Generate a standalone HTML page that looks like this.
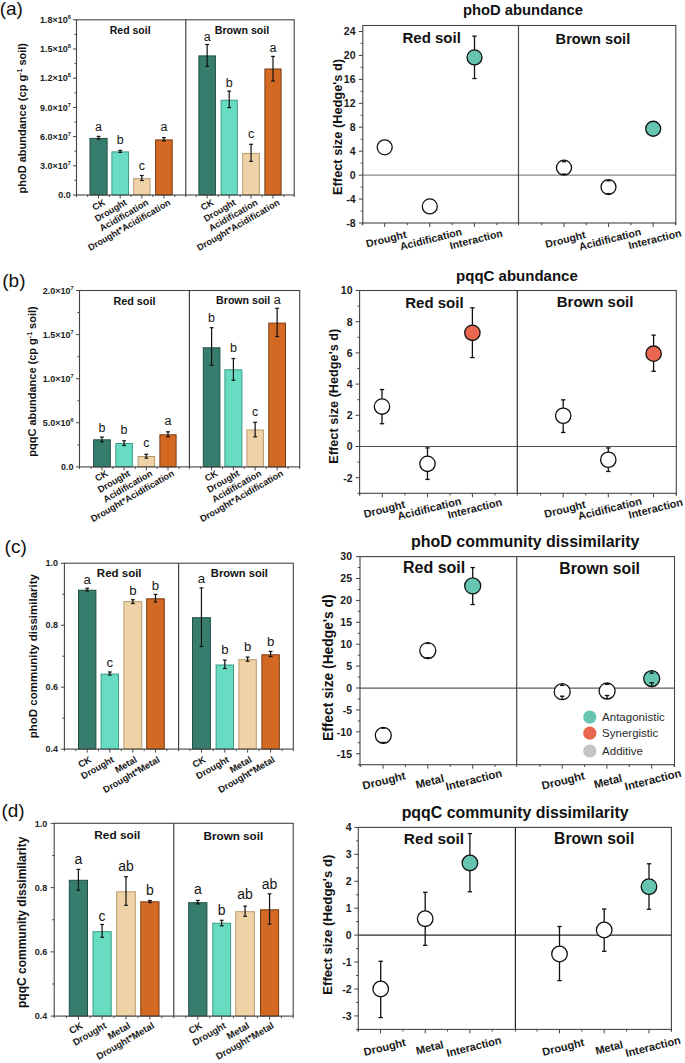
<!DOCTYPE html>
<html><head><meta charset="utf-8"><style>
html,body{margin:0;padding:0;background:#fff;}
svg{display:block;font-family:"Liberation Sans", sans-serif;}
</style></head><body>
<svg width="685" height="1063" viewBox="0 0 685 1063">
<rect width="685" height="1063" fill="#fff"/>
<rect x="90.00" y="138.40" width="17.10" height="56.60" fill="#377d6e" stroke="#1f4f44" stroke-width="1"/>
<line x1="98.55" y1="136.40" x2="98.55" y2="139.10" stroke="#111" stroke-width="1.2"/>
<line x1="96.65" y1="136.40" x2="100.45" y2="136.40" stroke="#111" stroke-width="1.2"/>
<line x1="96.65" y1="139.10" x2="100.45" y2="139.10" stroke="#111" stroke-width="1.2"/>
<text x="98.55" y="130.70" font-size="12.5" text-anchor="middle" fill="#151515">a</text>
<rect x="111.90" y="151.90" width="16.60" height="43.10" fill="#68dcc2" stroke="#3d9c85" stroke-width="1"/>
<line x1="120.20" y1="150.40" x2="120.20" y2="152.40" stroke="#111" stroke-width="1.2"/>
<line x1="118.30" y1="150.40" x2="122.10" y2="150.40" stroke="#111" stroke-width="1.2"/>
<line x1="118.30" y1="152.40" x2="122.10" y2="152.40" stroke="#111" stroke-width="1.2"/>
<text x="120.20" y="144.00" font-size="12.5" text-anchor="middle" fill="#151515">b</text>
<rect x="133.70" y="178.70" width="16.30" height="16.30" fill="#efd3a6" stroke="#b89a70" stroke-width="1"/>
<line x1="141.85" y1="175.50" x2="141.85" y2="180.50" stroke="#111" stroke-width="1.2"/>
<line x1="139.95" y1="175.50" x2="143.75" y2="175.50" stroke="#111" stroke-width="1.2"/>
<line x1="139.95" y1="180.50" x2="143.75" y2="180.50" stroke="#111" stroke-width="1.2"/>
<text x="141.85" y="170.10" font-size="12.5" text-anchor="middle" fill="#151515">c</text>
<rect x="155.60" y="139.90" width="16.60" height="55.10" fill="#d36922" stroke="#7a3a10" stroke-width="1"/>
<line x1="163.90" y1="137.60" x2="163.90" y2="141.00" stroke="#111" stroke-width="1.2"/>
<line x1="162.00" y1="137.60" x2="165.80" y2="137.60" stroke="#111" stroke-width="1.2"/>
<line x1="162.00" y1="141.00" x2="165.80" y2="141.00" stroke="#111" stroke-width="1.2"/>
<text x="163.90" y="130.70" font-size="12.5" text-anchor="middle" fill="#151515">a</text>
<text x="130.20" y="34.30" font-size="10.5" font-weight="bold" text-anchor="middle" fill="#111">Red soil</text>
<rect x="198.90" y="55.90" width="16.50" height="139.10" fill="#377d6e" stroke="#1f4f44" stroke-width="1"/>
<line x1="207.15" y1="44.50" x2="207.15" y2="66.40" stroke="#111" stroke-width="1.2"/>
<line x1="205.25" y1="44.50" x2="209.05" y2="44.50" stroke="#111" stroke-width="1.2"/>
<line x1="205.25" y1="66.40" x2="209.05" y2="66.40" stroke="#111" stroke-width="1.2"/>
<text x="207.15" y="41.00" font-size="12.5" text-anchor="middle" fill="#151515">a</text>
<rect x="221.10" y="100.20" width="16.20" height="94.80" fill="#68dcc2" stroke="#3d9c85" stroke-width="1"/>
<line x1="229.20" y1="91.10" x2="229.20" y2="107.60" stroke="#111" stroke-width="1.2"/>
<line x1="227.30" y1="91.10" x2="231.10" y2="91.10" stroke="#111" stroke-width="1.2"/>
<line x1="227.30" y1="107.60" x2="231.10" y2="107.60" stroke="#111" stroke-width="1.2"/>
<text x="229.20" y="87.40" font-size="12.5" text-anchor="middle" fill="#151515">b</text>
<rect x="242.70" y="153.40" width="16.70" height="41.60" fill="#efd3a6" stroke="#b89a70" stroke-width="1"/>
<line x1="251.05" y1="144.30" x2="251.05" y2="161.30" stroke="#111" stroke-width="1.2"/>
<line x1="249.15" y1="144.30" x2="252.95" y2="144.30" stroke="#111" stroke-width="1.2"/>
<line x1="249.15" y1="161.30" x2="252.95" y2="161.30" stroke="#111" stroke-width="1.2"/>
<text x="251.05" y="138.10" font-size="12.5" text-anchor="middle" fill="#151515">c</text>
<rect x="264.90" y="69.00" width="16.20" height="126.00" fill="#d36922" stroke="#7a3a10" stroke-width="1"/>
<line x1="273.00" y1="56.40" x2="273.00" y2="81.00" stroke="#111" stroke-width="1.2"/>
<line x1="271.10" y1="56.40" x2="274.90" y2="56.40" stroke="#111" stroke-width="1.2"/>
<line x1="271.10" y1="81.00" x2="274.90" y2="81.00" stroke="#111" stroke-width="1.2"/>
<text x="273.00" y="52.40" font-size="12.5" text-anchor="middle" fill="#151515">a</text>
<text x="242.00" y="34.40" font-size="10.7" font-weight="bold" text-anchor="middle" fill="#111">Brown soil</text>
<rect x="76.5" y="19.8" width="217.7" height="175.2" fill="none" stroke="#444" stroke-width="1.1"/>
<line x1="185.80" y1="19.80" x2="185.80" y2="195.00" stroke="#333" stroke-width="1.1"/>
<line x1="73.00" y1="195.00" x2="76.50" y2="195.00" stroke="#444" stroke-width="1"/>
<text x="70.80" y="198.10" font-size="9" font-weight="bold" text-anchor="end" fill="#222">0.0</text>
<line x1="73.00" y1="165.80" x2="76.50" y2="165.80" stroke="#444" stroke-width="1"/>
<text x="70.80" y="168.90" font-size="9" font-weight="bold" text-anchor="end" fill="#222">3.0×10<tspan font-size="5.5" dy="-4">7</tspan></text>
<line x1="73.00" y1="136.60" x2="76.50" y2="136.60" stroke="#444" stroke-width="1"/>
<text x="70.80" y="139.70" font-size="9" font-weight="bold" text-anchor="end" fill="#222">6.0×10<tspan font-size="5.5" dy="-4">7</tspan></text>
<line x1="73.00" y1="107.40" x2="76.50" y2="107.40" stroke="#444" stroke-width="1"/>
<text x="70.80" y="110.50" font-size="9" font-weight="bold" text-anchor="end" fill="#222">9.0×10<tspan font-size="5.5" dy="-4">7</tspan></text>
<line x1="73.00" y1="78.20" x2="76.50" y2="78.20" stroke="#444" stroke-width="1"/>
<text x="70.80" y="81.30" font-size="9" font-weight="bold" text-anchor="end" fill="#222">1.2×10<tspan font-size="5.5" dy="-4">8</tspan></text>
<line x1="73.00" y1="49.00" x2="76.50" y2="49.00" stroke="#444" stroke-width="1"/>
<text x="70.80" y="52.10" font-size="9" font-weight="bold" text-anchor="end" fill="#222">1.5×10<tspan font-size="5.5" dy="-4">8</tspan></text>
<line x1="73.00" y1="19.80" x2="76.50" y2="19.80" stroke="#444" stroke-width="1"/>
<text x="70.80" y="22.90" font-size="9" font-weight="bold" text-anchor="end" fill="#222">1.8×10<tspan font-size="5.5" dy="-4">8</tspan></text>
<line x1="74.50" y1="180.40" x2="76.50" y2="180.40" stroke="#444" stroke-width="1"/>
<line x1="74.50" y1="151.20" x2="76.50" y2="151.20" stroke="#444" stroke-width="1"/>
<line x1="74.50" y1="122.00" x2="76.50" y2="122.00" stroke="#444" stroke-width="1"/>
<line x1="74.50" y1="92.80" x2="76.50" y2="92.80" stroke="#444" stroke-width="1"/>
<line x1="74.50" y1="63.60" x2="76.50" y2="63.60" stroke="#444" stroke-width="1"/>
<line x1="74.50" y1="34.40" x2="76.50" y2="34.40" stroke="#444" stroke-width="1"/>
<line x1="98.55" y1="195.00" x2="98.55" y2="198.50" stroke="#444" stroke-width="1"/>
<line x1="120.20" y1="195.00" x2="120.20" y2="198.50" stroke="#444" stroke-width="1"/>
<line x1="141.85" y1="195.00" x2="141.85" y2="198.50" stroke="#444" stroke-width="1"/>
<line x1="163.90" y1="195.00" x2="163.90" y2="198.50" stroke="#444" stroke-width="1"/>
<line x1="207.15" y1="195.00" x2="207.15" y2="198.50" stroke="#444" stroke-width="1"/>
<line x1="229.20" y1="195.00" x2="229.20" y2="198.50" stroke="#444" stroke-width="1"/>
<line x1="251.05" y1="195.00" x2="251.05" y2="198.50" stroke="#444" stroke-width="1"/>
<line x1="273.00" y1="195.00" x2="273.00" y2="198.50" stroke="#444" stroke-width="1"/>
<line x1="87.66" y1="195.00" x2="87.66" y2="197.00" stroke="#444" stroke-width="1"/>
<line x1="109.38" y1="195.00" x2="109.38" y2="197.00" stroke="#444" stroke-width="1"/>
<line x1="131.03" y1="195.00" x2="131.03" y2="197.00" stroke="#444" stroke-width="1"/>
<line x1="152.88" y1="195.00" x2="152.88" y2="197.00" stroke="#444" stroke-width="1"/>
<line x1="174.79" y1="195.00" x2="174.79" y2="197.00" stroke="#444" stroke-width="1"/>
<line x1="196.18" y1="195.00" x2="196.18" y2="197.00" stroke="#444" stroke-width="1"/>
<line x1="218.18" y1="195.00" x2="218.18" y2="197.00" stroke="#444" stroke-width="1"/>
<line x1="240.12" y1="195.00" x2="240.12" y2="197.00" stroke="#444" stroke-width="1"/>
<line x1="262.02" y1="195.00" x2="262.02" y2="197.00" stroke="#444" stroke-width="1"/>
<line x1="283.98" y1="195.00" x2="283.98" y2="197.00" stroke="#444" stroke-width="1"/>
<line x1="76.50" y1="195.00" x2="76.50" y2="197.00" stroke="#444" stroke-width="1"/>
<line x1="185.80" y1="195.00" x2="185.80" y2="197.00" stroke="#444" stroke-width="1"/>
<line x1="294.20" y1="195.00" x2="294.20" y2="197.00" stroke="#444" stroke-width="1"/>
<text x="105.85" y="204.30" font-size="9.1" font-weight="bold" text-anchor="end" fill="#1a1a1a" transform="rotate(-30 105.85 204.30)">CK</text>
<text x="127.50" y="204.30" font-size="9.1" font-weight="bold" text-anchor="end" fill="#1a1a1a" transform="rotate(-30 127.50 204.30)">Drought</text>
<text x="149.15" y="204.30" font-size="9.1" font-weight="bold" text-anchor="end" fill="#1a1a1a" transform="rotate(-30 149.15 204.30)">Acidification</text>
<text x="171.20" y="204.30" font-size="9.1" font-weight="bold" text-anchor="end" fill="#1a1a1a" transform="rotate(-30 171.20 204.30)">Drought*Acidification</text>
<text x="214.45" y="204.30" font-size="9.1" font-weight="bold" text-anchor="end" fill="#1a1a1a" transform="rotate(-30 214.45 204.30)">CK</text>
<text x="236.50" y="204.30" font-size="9.1" font-weight="bold" text-anchor="end" fill="#1a1a1a" transform="rotate(-30 236.50 204.30)">Drought</text>
<text x="258.35" y="204.30" font-size="9.1" font-weight="bold" text-anchor="end" fill="#1a1a1a" transform="rotate(-30 258.35 204.30)">Acidification</text>
<text x="280.30" y="204.30" font-size="9.1" font-weight="bold" text-anchor="end" fill="#1a1a1a" transform="rotate(-30 280.30 204.30)">Drought*Acidification</text>
<text x="26.40" y="118.20" font-size="11" font-weight="bold" text-anchor="middle" fill="#111" transform="rotate(-90 26.40 118.20)">phoD abundance (cp g<tspan font-size="7" dy="-4">-1</tspan><tspan dy="4"> soil)</tspan></text>
<text x="-0.30" y="14.70" font-size="19" text-anchor="start" fill="#111">(a)</text>
<rect x="93.60" y="439.80" width="16.70" height="27.10" fill="#377d6e" stroke="#1f4f44" stroke-width="1"/>
<line x1="101.95" y1="437.10" x2="101.95" y2="441.80" stroke="#111" stroke-width="1.2"/>
<line x1="100.05" y1="437.10" x2="103.85" y2="437.10" stroke="#111" stroke-width="1.2"/>
<line x1="100.05" y1="441.80" x2="103.85" y2="441.80" stroke="#111" stroke-width="1.2"/>
<text x="101.95" y="431.60" font-size="12.5" text-anchor="middle" fill="#151515">b</text>
<rect x="115.80" y="443.50" width="16.60" height="23.40" fill="#68dcc2" stroke="#3d9c85" stroke-width="1"/>
<line x1="124.10" y1="440.80" x2="124.10" y2="445.50" stroke="#111" stroke-width="1.2"/>
<line x1="122.20" y1="440.80" x2="126.00" y2="440.80" stroke="#111" stroke-width="1.2"/>
<line x1="122.20" y1="445.50" x2="126.00" y2="445.50" stroke="#111" stroke-width="1.2"/>
<text x="124.10" y="434.40" font-size="12.5" text-anchor="middle" fill="#151515">b</text>
<rect x="138.10" y="456.50" width="16.50" height="10.40" fill="#efd3a6" stroke="#b89a70" stroke-width="1"/>
<line x1="146.35" y1="454.30" x2="146.35" y2="458.10" stroke="#111" stroke-width="1.2"/>
<line x1="144.45" y1="454.30" x2="148.25" y2="454.30" stroke="#111" stroke-width="1.2"/>
<line x1="144.45" y1="458.10" x2="148.25" y2="458.10" stroke="#111" stroke-width="1.2"/>
<text x="146.35" y="447.00" font-size="12.5" text-anchor="middle" fill="#151515">c</text>
<rect x="159.90" y="434.80" width="16.20" height="32.10" fill="#d36922" stroke="#7a3a10" stroke-width="1"/>
<line x1="168.00" y1="431.80" x2="168.00" y2="436.80" stroke="#111" stroke-width="1.2"/>
<line x1="166.10" y1="431.80" x2="169.90" y2="431.80" stroke="#111" stroke-width="1.2"/>
<line x1="166.10" y1="436.80" x2="169.90" y2="436.80" stroke="#111" stroke-width="1.2"/>
<text x="168.00" y="425.20" font-size="12.5" text-anchor="middle" fill="#151515">a</text>
<text x="134.40" y="304.60" font-size="10.8" font-weight="bold" text-anchor="middle" fill="#111">Red soil</text>
<rect x="203.30" y="347.80" width="16.60" height="119.10" fill="#377d6e" stroke="#1f4f44" stroke-width="1"/>
<line x1="211.60" y1="327.70" x2="211.60" y2="365.30" stroke="#111" stroke-width="1.2"/>
<line x1="209.70" y1="327.70" x2="213.50" y2="327.70" stroke="#111" stroke-width="1.2"/>
<line x1="209.70" y1="365.30" x2="213.50" y2="365.30" stroke="#111" stroke-width="1.2"/>
<text x="211.60" y="322.40" font-size="12.5" text-anchor="middle" fill="#151515">b</text>
<rect x="224.90" y="369.80" width="17.00" height="97.10" fill="#68dcc2" stroke="#3d9c85" stroke-width="1"/>
<line x1="233.40" y1="358.50" x2="233.40" y2="380.30" stroke="#111" stroke-width="1.2"/>
<line x1="231.50" y1="358.50" x2="235.30" y2="358.50" stroke="#111" stroke-width="1.2"/>
<line x1="231.50" y1="380.30" x2="235.30" y2="380.30" stroke="#111" stroke-width="1.2"/>
<text x="233.40" y="352.30" font-size="12.5" text-anchor="middle" fill="#151515">b</text>
<rect x="246.90" y="430.00" width="16.50" height="36.90" fill="#efd3a6" stroke="#b89a70" stroke-width="1"/>
<line x1="255.15" y1="422.30" x2="255.15" y2="436.80" stroke="#111" stroke-width="1.2"/>
<line x1="253.25" y1="422.30" x2="257.05" y2="422.30" stroke="#111" stroke-width="1.2"/>
<line x1="253.25" y1="436.80" x2="257.05" y2="436.80" stroke="#111" stroke-width="1.2"/>
<text x="255.15" y="415.50" font-size="12.5" text-anchor="middle" fill="#151515">c</text>
<rect x="268.80" y="323.10" width="16.70" height="143.80" fill="#d36922" stroke="#7a3a10" stroke-width="1"/>
<line x1="277.15" y1="308.30" x2="277.15" y2="336.50" stroke="#111" stroke-width="1.2"/>
<line x1="275.25" y1="308.30" x2="279.05" y2="308.30" stroke="#111" stroke-width="1.2"/>
<line x1="275.25" y1="336.50" x2="279.05" y2="336.50" stroke="#111" stroke-width="1.2"/>
<text x="277.15" y="304.10" font-size="12.5" text-anchor="middle" fill="#151515">a</text>
<text x="243.20" y="303.50" font-size="10.6" font-weight="bold" text-anchor="middle" fill="#111">Brown soil</text>
<rect x="79.5" y="290.5" width="220.2" height="176.39999999999998" fill="none" stroke="#444" stroke-width="1.1"/>
<line x1="189.40" y1="290.50" x2="189.40" y2="466.90" stroke="#333" stroke-width="1.1"/>
<line x1="76.00" y1="466.90" x2="79.50" y2="466.90" stroke="#444" stroke-width="1"/>
<text x="73.50" y="470.00" font-size="9" font-weight="bold" text-anchor="end" fill="#222">0.0</text>
<line x1="76.00" y1="422.80" x2="79.50" y2="422.80" stroke="#444" stroke-width="1"/>
<text x="73.50" y="425.90" font-size="9" font-weight="bold" text-anchor="end" fill="#222">5.0×10<tspan font-size="5.5" dy="-4">6</tspan></text>
<line x1="76.00" y1="378.70" x2="79.50" y2="378.70" stroke="#444" stroke-width="1"/>
<text x="73.50" y="381.80" font-size="9" font-weight="bold" text-anchor="end" fill="#222">1.0×10<tspan font-size="5.5" dy="-4">7</tspan></text>
<line x1="76.00" y1="334.60" x2="79.50" y2="334.60" stroke="#444" stroke-width="1"/>
<text x="73.50" y="337.70" font-size="9" font-weight="bold" text-anchor="end" fill="#222">1.5×10<tspan font-size="5.5" dy="-4">7</tspan></text>
<line x1="76.00" y1="290.50" x2="79.50" y2="290.50" stroke="#444" stroke-width="1"/>
<text x="73.50" y="293.60" font-size="9" font-weight="bold" text-anchor="end" fill="#222">2.0×10<tspan font-size="5.5" dy="-4">7</tspan></text>
<line x1="77.50" y1="444.85" x2="79.50" y2="444.85" stroke="#444" stroke-width="1"/>
<line x1="77.50" y1="400.75" x2="79.50" y2="400.75" stroke="#444" stroke-width="1"/>
<line x1="77.50" y1="356.65" x2="79.50" y2="356.65" stroke="#444" stroke-width="1"/>
<line x1="77.50" y1="312.55" x2="79.50" y2="312.55" stroke="#444" stroke-width="1"/>
<line x1="101.95" y1="466.90" x2="101.95" y2="470.40" stroke="#444" stroke-width="1"/>
<line x1="124.10" y1="466.90" x2="124.10" y2="470.40" stroke="#444" stroke-width="1"/>
<line x1="146.35" y1="466.90" x2="146.35" y2="470.40" stroke="#444" stroke-width="1"/>
<line x1="168.00" y1="466.90" x2="168.00" y2="470.40" stroke="#444" stroke-width="1"/>
<line x1="211.60" y1="466.90" x2="211.60" y2="470.40" stroke="#444" stroke-width="1"/>
<line x1="233.40" y1="466.90" x2="233.40" y2="470.40" stroke="#444" stroke-width="1"/>
<line x1="255.15" y1="466.90" x2="255.15" y2="470.40" stroke="#444" stroke-width="1"/>
<line x1="277.15" y1="466.90" x2="277.15" y2="470.40" stroke="#444" stroke-width="1"/>
<line x1="90.94" y1="466.90" x2="90.94" y2="468.90" stroke="#444" stroke-width="1"/>
<line x1="113.02" y1="466.90" x2="113.02" y2="468.90" stroke="#444" stroke-width="1"/>
<line x1="135.22" y1="466.90" x2="135.22" y2="468.90" stroke="#444" stroke-width="1"/>
<line x1="157.18" y1="466.90" x2="157.18" y2="468.90" stroke="#444" stroke-width="1"/>
<line x1="179.01" y1="466.90" x2="179.01" y2="468.90" stroke="#444" stroke-width="1"/>
<line x1="200.68" y1="466.90" x2="200.68" y2="468.90" stroke="#444" stroke-width="1"/>
<line x1="222.50" y1="466.90" x2="222.50" y2="468.90" stroke="#444" stroke-width="1"/>
<line x1="244.28" y1="466.90" x2="244.28" y2="468.90" stroke="#444" stroke-width="1"/>
<line x1="266.15" y1="466.90" x2="266.15" y2="468.90" stroke="#444" stroke-width="1"/>
<line x1="288.08" y1="466.90" x2="288.08" y2="468.90" stroke="#444" stroke-width="1"/>
<line x1="79.50" y1="466.90" x2="79.50" y2="468.90" stroke="#444" stroke-width="1"/>
<line x1="189.40" y1="466.90" x2="189.40" y2="468.90" stroke="#444" stroke-width="1"/>
<line x1="299.70" y1="466.90" x2="299.70" y2="468.90" stroke="#444" stroke-width="1"/>
<text x="108.80" y="475.10" font-size="9.2" font-weight="bold" text-anchor="end" fill="#1a1a1a" transform="rotate(-30 108.80 475.10)">CK</text>
<text x="130.95" y="475.10" font-size="9.2" font-weight="bold" text-anchor="end" fill="#1a1a1a" transform="rotate(-30 130.95 475.10)">Drought</text>
<text x="153.20" y="475.10" font-size="9.2" font-weight="bold" text-anchor="end" fill="#1a1a1a" transform="rotate(-30 153.20 475.10)">Acidification</text>
<text x="174.85" y="475.10" font-size="9.2" font-weight="bold" text-anchor="end" fill="#1a1a1a" transform="rotate(-30 174.85 475.10)">Drought*Acidification</text>
<text x="218.45" y="475.10" font-size="9.2" font-weight="bold" text-anchor="end" fill="#1a1a1a" transform="rotate(-30 218.45 475.10)">CK</text>
<text x="240.25" y="475.10" font-size="9.2" font-weight="bold" text-anchor="end" fill="#1a1a1a" transform="rotate(-30 240.25 475.10)">Drought</text>
<text x="262.00" y="475.10" font-size="9.2" font-weight="bold" text-anchor="end" fill="#1a1a1a" transform="rotate(-30 262.00 475.10)">Acidification</text>
<text x="284.00" y="475.10" font-size="9.2" font-weight="bold" text-anchor="end" fill="#1a1a1a" transform="rotate(-30 284.00 475.10)">Drought*Acidification</text>
<text x="36.10" y="381.50" font-size="11" font-weight="bold" text-anchor="middle" fill="#111" transform="rotate(-90 36.10 381.50)">pqqC abundance (cp g<tspan font-size="7" dy="-4">-1</tspan><tspan dy="4"> soil)</tspan></text>
<text x="2.30" y="286.80" font-size="19" text-anchor="start" fill="#111">(b)</text>
<rect x="78.50" y="590.20" width="17.40" height="158.90" fill="#377d6e" stroke="#1f4f44" stroke-width="1"/>
<line x1="87.20" y1="588.30" x2="87.20" y2="590.90" stroke="#111" stroke-width="1.2"/>
<line x1="85.30" y1="588.30" x2="89.10" y2="588.30" stroke="#111" stroke-width="1.2"/>
<line x1="85.30" y1="590.90" x2="89.10" y2="590.90" stroke="#111" stroke-width="1.2"/>
<text x="87.20" y="584.20" font-size="13.2" text-anchor="middle" fill="#151515">a</text>
<rect x="101.10" y="674.10" width="17.40" height="75.00" fill="#68dcc2" stroke="#3d9c85" stroke-width="1"/>
<line x1="109.80" y1="672.00" x2="109.80" y2="675.00" stroke="#111" stroke-width="1.2"/>
<line x1="107.90" y1="672.00" x2="111.70" y2="672.00" stroke="#111" stroke-width="1.2"/>
<line x1="107.90" y1="675.00" x2="111.70" y2="675.00" stroke="#111" stroke-width="1.2"/>
<text x="109.80" y="667.10" font-size="13.2" text-anchor="middle" fill="#151515">c</text>
<rect x="123.90" y="601.60" width="17.90" height="147.50" fill="#efd3a6" stroke="#b89a70" stroke-width="1"/>
<line x1="132.85" y1="599.70" x2="132.85" y2="603.50" stroke="#111" stroke-width="1.2"/>
<line x1="130.95" y1="599.70" x2="134.75" y2="599.70" stroke="#111" stroke-width="1.2"/>
<line x1="130.95" y1="603.50" x2="134.75" y2="603.50" stroke="#111" stroke-width="1.2"/>
<text x="132.85" y="594.50" font-size="13.2" text-anchor="middle" fill="#151515">b</text>
<rect x="146.70" y="598.80" width="17.60" height="150.30" fill="#d36922" stroke="#7a3a10" stroke-width="1"/>
<line x1="155.50" y1="594.40" x2="155.50" y2="602.00" stroke="#111" stroke-width="1.2"/>
<line x1="153.60" y1="594.40" x2="157.40" y2="594.40" stroke="#111" stroke-width="1.2"/>
<line x1="153.60" y1="602.00" x2="157.40" y2="602.00" stroke="#111" stroke-width="1.2"/>
<text x="155.50" y="589.80" font-size="13.2" text-anchor="middle" fill="#151515">b</text>
<text x="119.20" y="576.90" font-size="11.5" font-weight="bold" text-anchor="middle" fill="#111">Red soil</text>
<rect x="192.50" y="617.70" width="17.90" height="131.40" fill="#377d6e" stroke="#1f4f44" stroke-width="1"/>
<line x1="201.45" y1="587.90" x2="201.45" y2="646.50" stroke="#111" stroke-width="1.2"/>
<line x1="199.55" y1="587.90" x2="203.35" y2="587.90" stroke="#111" stroke-width="1.2"/>
<line x1="199.55" y1="646.50" x2="203.35" y2="646.50" stroke="#111" stroke-width="1.2"/>
<text x="201.45" y="583.30" font-size="13.2" text-anchor="middle" fill="#151515">a</text>
<rect x="216.10" y="665.00" width="17.40" height="84.10" fill="#68dcc2" stroke="#3d9c85" stroke-width="1"/>
<line x1="224.80" y1="660.10" x2="224.80" y2="668.50" stroke="#111" stroke-width="1.2"/>
<line x1="222.90" y1="660.10" x2="226.70" y2="660.10" stroke="#111" stroke-width="1.2"/>
<line x1="222.90" y1="668.50" x2="226.70" y2="668.50" stroke="#111" stroke-width="1.2"/>
<text x="224.80" y="654.30" font-size="13.2" text-anchor="middle" fill="#151515">b</text>
<rect x="238.90" y="659.70" width="17.40" height="89.40" fill="#efd3a6" stroke="#b89a70" stroke-width="1"/>
<line x1="247.60" y1="657.10" x2="247.60" y2="661.30" stroke="#111" stroke-width="1.2"/>
<line x1="245.70" y1="657.10" x2="249.50" y2="657.10" stroke="#111" stroke-width="1.2"/>
<line x1="245.70" y1="661.30" x2="249.50" y2="661.30" stroke="#111" stroke-width="1.2"/>
<text x="247.60" y="650.80" font-size="13.2" text-anchor="middle" fill="#151515">b</text>
<rect x="261.90" y="654.80" width="17.40" height="94.30" fill="#d36922" stroke="#7a3a10" stroke-width="1"/>
<line x1="270.60" y1="651.40" x2="270.60" y2="656.60" stroke="#111" stroke-width="1.2"/>
<line x1="268.70" y1="651.40" x2="272.50" y2="651.40" stroke="#111" stroke-width="1.2"/>
<line x1="268.70" y1="656.60" x2="272.50" y2="656.60" stroke="#111" stroke-width="1.2"/>
<text x="270.60" y="646.40" font-size="13.2" text-anchor="middle" fill="#151515">b</text>
<text x="239.40" y="576.90" font-size="11.2" font-weight="bold" text-anchor="middle" fill="#111">Brown soil</text>
<rect x="64.4" y="563.2" width="228.9" height="185.89999999999998" fill="none" stroke="#444" stroke-width="1.1"/>
<line x1="178.60" y1="563.20" x2="178.60" y2="749.10" stroke="#333" stroke-width="1.1"/>
<line x1="60.90" y1="749.10" x2="64.40" y2="749.10" stroke="#444" stroke-width="1"/>
<text x="57.90" y="752.20" font-size="9" font-weight="bold" text-anchor="end" fill="#222">0.4</text>
<line x1="60.90" y1="687.17" x2="64.40" y2="687.17" stroke="#444" stroke-width="1"/>
<text x="57.90" y="690.27" font-size="9" font-weight="bold" text-anchor="end" fill="#222">0.6</text>
<line x1="60.90" y1="625.23" x2="64.40" y2="625.23" stroke="#444" stroke-width="1"/>
<text x="57.90" y="628.33" font-size="9" font-weight="bold" text-anchor="end" fill="#222">0.8</text>
<line x1="60.90" y1="563.30" x2="64.40" y2="563.30" stroke="#444" stroke-width="1"/>
<text x="57.90" y="566.40" font-size="9" font-weight="bold" text-anchor="end" fill="#222">1.0</text>
<line x1="62.40" y1="718.13" x2="64.40" y2="718.13" stroke="#444" stroke-width="1"/>
<line x1="62.40" y1="656.20" x2="64.40" y2="656.20" stroke="#444" stroke-width="1"/>
<line x1="62.40" y1="594.27" x2="64.40" y2="594.27" stroke="#444" stroke-width="1"/>
<line x1="87.20" y1="749.10" x2="87.20" y2="752.60" stroke="#444" stroke-width="1"/>
<line x1="109.80" y1="749.10" x2="109.80" y2="752.60" stroke="#444" stroke-width="1"/>
<line x1="132.85" y1="749.10" x2="132.85" y2="752.60" stroke="#444" stroke-width="1"/>
<line x1="155.50" y1="749.10" x2="155.50" y2="752.60" stroke="#444" stroke-width="1"/>
<line x1="201.45" y1="749.10" x2="201.45" y2="752.60" stroke="#444" stroke-width="1"/>
<line x1="224.80" y1="749.10" x2="224.80" y2="752.60" stroke="#444" stroke-width="1"/>
<line x1="247.60" y1="749.10" x2="247.60" y2="752.60" stroke="#444" stroke-width="1"/>
<line x1="270.60" y1="749.10" x2="270.60" y2="752.60" stroke="#444" stroke-width="1"/>
<line x1="75.82" y1="749.10" x2="75.82" y2="751.10" stroke="#444" stroke-width="1"/>
<line x1="98.50" y1="749.10" x2="98.50" y2="751.10" stroke="#444" stroke-width="1"/>
<line x1="121.32" y1="749.10" x2="121.32" y2="751.10" stroke="#444" stroke-width="1"/>
<line x1="144.18" y1="749.10" x2="144.18" y2="751.10" stroke="#444" stroke-width="1"/>
<line x1="166.88" y1="749.10" x2="166.88" y2="751.10" stroke="#444" stroke-width="1"/>
<line x1="189.92" y1="749.10" x2="189.92" y2="751.10" stroke="#444" stroke-width="1"/>
<line x1="213.12" y1="749.10" x2="213.12" y2="751.10" stroke="#444" stroke-width="1"/>
<line x1="236.20" y1="749.10" x2="236.20" y2="751.10" stroke="#444" stroke-width="1"/>
<line x1="259.10" y1="749.10" x2="259.10" y2="751.10" stroke="#444" stroke-width="1"/>
<line x1="282.12" y1="749.10" x2="282.12" y2="751.10" stroke="#444" stroke-width="1"/>
<line x1="64.40" y1="749.10" x2="64.40" y2="751.10" stroke="#444" stroke-width="1"/>
<line x1="178.60" y1="749.10" x2="178.60" y2="751.10" stroke="#444" stroke-width="1"/>
<line x1="293.30" y1="749.10" x2="293.30" y2="751.10" stroke="#444" stroke-width="1"/>
<text x="92.10" y="761.40" font-size="9.3" font-weight="bold" text-anchor="end" fill="#1a1a1a" transform="rotate(-30 92.10 761.40)">CK</text>
<text x="114.70" y="761.40" font-size="9.3" font-weight="bold" text-anchor="end" fill="#1a1a1a" transform="rotate(-30 114.70 761.40)">Drought</text>
<text x="137.75" y="761.40" font-size="9.3" font-weight="bold" text-anchor="end" fill="#1a1a1a" transform="rotate(-30 137.75 761.40)">Metal</text>
<text x="160.40" y="761.40" font-size="9.3" font-weight="bold" text-anchor="end" fill="#1a1a1a" transform="rotate(-30 160.40 761.40)">Drought*Metal</text>
<text x="206.35" y="761.40" font-size="9.3" font-weight="bold" text-anchor="end" fill="#1a1a1a" transform="rotate(-30 206.35 761.40)">CK</text>
<text x="229.70" y="761.40" font-size="9.3" font-weight="bold" text-anchor="end" fill="#1a1a1a" transform="rotate(-30 229.70 761.40)">Drought</text>
<text x="252.50" y="761.40" font-size="9.3" font-weight="bold" text-anchor="end" fill="#1a1a1a" transform="rotate(-30 252.50 761.40)">Metal</text>
<text x="275.50" y="761.40" font-size="9.3" font-weight="bold" text-anchor="end" fill="#1a1a1a" transform="rotate(-30 275.50 761.40)">Drought*Metal</text>
<text x="36.90" y="656.20" font-size="11.5" font-weight="bold" text-anchor="middle" fill="#111" transform="rotate(-90 36.90 656.20)">phoD community dissimilarity</text>
<text x="4.60" y="552.90" font-size="19" text-anchor="start" fill="#111">(c)</text>
<rect x="69.30" y="880.30" width="18.20" height="135.80" fill="#377d6e" stroke="#1f4f44" stroke-width="1"/>
<line x1="78.40" y1="869.40" x2="78.40" y2="890.20" stroke="#111" stroke-width="1.2"/>
<line x1="76.50" y1="869.40" x2="80.30" y2="869.40" stroke="#111" stroke-width="1.2"/>
<line x1="76.50" y1="890.20" x2="80.30" y2="890.20" stroke="#111" stroke-width="1.2"/>
<text x="78.40" y="863.90" font-size="14" text-anchor="middle" fill="#151515">a</text>
<rect x="93.00" y="931.70" width="18.20" height="84.40" fill="#68dcc2" stroke="#3d9c85" stroke-width="1"/>
<line x1="102.10" y1="924.50" x2="102.10" y2="937.30" stroke="#111" stroke-width="1.2"/>
<line x1="100.20" y1="924.50" x2="104.00" y2="924.50" stroke="#111" stroke-width="1.2"/>
<line x1="100.20" y1="937.30" x2="104.00" y2="937.30" stroke="#111" stroke-width="1.2"/>
<text x="102.10" y="920.50" font-size="14" text-anchor="middle" fill="#151515">c</text>
<rect x="116.70" y="891.80" width="18.60" height="124.30" fill="#efd3a6" stroke="#b89a70" stroke-width="1"/>
<line x1="126.00" y1="876.70" x2="126.00" y2="905.30" stroke="#111" stroke-width="1.2"/>
<line x1="124.10" y1="876.70" x2="127.90" y2="876.70" stroke="#111" stroke-width="1.2"/>
<line x1="124.10" y1="905.30" x2="127.90" y2="905.30" stroke="#111" stroke-width="1.2"/>
<text x="126.00" y="871.20" font-size="14" text-anchor="middle" fill="#151515">ab</text>
<rect x="140.80" y="901.80" width="18.20" height="114.30" fill="#d36922" stroke="#7a3a10" stroke-width="1"/>
<line x1="149.90" y1="900.50" x2="149.90" y2="902.60" stroke="#111" stroke-width="1.2"/>
<line x1="148.00" y1="900.50" x2="151.80" y2="900.50" stroke="#111" stroke-width="1.2"/>
<line x1="148.00" y1="902.60" x2="151.80" y2="902.60" stroke="#111" stroke-width="1.2"/>
<text x="149.90" y="894.90" font-size="14" text-anchor="middle" fill="#151515">b</text>
<text x="117.30" y="839.10" font-size="11.8" font-weight="bold" text-anchor="middle" fill="#111">Red soil</text>
<rect x="188.70" y="902.70" width="18.20" height="113.40" fill="#377d6e" stroke="#1f4f44" stroke-width="1"/>
<line x1="197.80" y1="900.40" x2="197.80" y2="903.90" stroke="#111" stroke-width="1.2"/>
<line x1="195.90" y1="900.40" x2="199.70" y2="900.40" stroke="#111" stroke-width="1.2"/>
<line x1="195.90" y1="903.90" x2="199.70" y2="903.90" stroke="#111" stroke-width="1.2"/>
<text x="197.80" y="893.50" font-size="14" text-anchor="middle" fill="#151515">a</text>
<rect x="212.80" y="923.20" width="17.80" height="92.90" fill="#68dcc2" stroke="#3d9c85" stroke-width="1"/>
<line x1="221.70" y1="920.30" x2="221.70" y2="925.80" stroke="#111" stroke-width="1.2"/>
<line x1="219.80" y1="920.30" x2="223.60" y2="920.30" stroke="#111" stroke-width="1.2"/>
<line x1="219.80" y1="925.80" x2="223.60" y2="925.80" stroke="#111" stroke-width="1.2"/>
<text x="221.70" y="914.50" font-size="14" text-anchor="middle" fill="#151515">b</text>
<rect x="235.80" y="911.70" width="18.60" height="104.40" fill="#efd3a6" stroke="#b89a70" stroke-width="1"/>
<line x1="245.10" y1="906.20" x2="245.10" y2="916.30" stroke="#111" stroke-width="1.2"/>
<line x1="243.20" y1="906.20" x2="247.00" y2="906.20" stroke="#111" stroke-width="1.2"/>
<line x1="243.20" y1="916.30" x2="247.00" y2="916.30" stroke="#111" stroke-width="1.2"/>
<text x="245.10" y="898.90" font-size="14" text-anchor="middle" fill="#151515">ab</text>
<rect x="260.50" y="909.80" width="18.10" height="106.30" fill="#d36922" stroke="#7a3a10" stroke-width="1"/>
<line x1="269.55" y1="893.80" x2="269.55" y2="924.10" stroke="#111" stroke-width="1.2"/>
<line x1="267.65" y1="893.80" x2="271.45" y2="893.80" stroke="#111" stroke-width="1.2"/>
<line x1="267.65" y1="924.10" x2="271.45" y2="924.10" stroke="#111" stroke-width="1.2"/>
<text x="269.55" y="888.90" font-size="14" text-anchor="middle" fill="#151515">ab</text>
<text x="233.40" y="840.00" font-size="11.7" font-weight="bold" text-anchor="middle" fill="#111">Brown soil</text>
<rect x="54.2" y="823.3" width="239.0" height="192.80000000000007" fill="none" stroke="#444" stroke-width="1.1"/>
<line x1="173.80" y1="823.30" x2="173.80" y2="1016.10" stroke="#333" stroke-width="1.1"/>
<line x1="50.70" y1="1016.10" x2="54.20" y2="1016.10" stroke="#444" stroke-width="1"/>
<text x="47.20" y="1019.20" font-size="9" font-weight="bold" text-anchor="end" fill="#222">0.4</text>
<line x1="50.70" y1="951.87" x2="54.20" y2="951.87" stroke="#444" stroke-width="1"/>
<text x="47.20" y="954.97" font-size="9" font-weight="bold" text-anchor="end" fill="#222">0.6</text>
<line x1="50.70" y1="887.63" x2="54.20" y2="887.63" stroke="#444" stroke-width="1"/>
<text x="47.20" y="890.73" font-size="9" font-weight="bold" text-anchor="end" fill="#222">0.8</text>
<line x1="50.70" y1="823.40" x2="54.20" y2="823.40" stroke="#444" stroke-width="1"/>
<text x="47.20" y="826.50" font-size="9" font-weight="bold" text-anchor="end" fill="#222">1.0</text>
<line x1="52.20" y1="983.98" x2="54.20" y2="983.98" stroke="#444" stroke-width="1"/>
<line x1="52.20" y1="919.75" x2="54.20" y2="919.75" stroke="#444" stroke-width="1"/>
<line x1="52.20" y1="855.52" x2="54.20" y2="855.52" stroke="#444" stroke-width="1"/>
<line x1="78.40" y1="1016.10" x2="78.40" y2="1019.60" stroke="#444" stroke-width="1"/>
<line x1="102.10" y1="1016.10" x2="102.10" y2="1019.60" stroke="#444" stroke-width="1"/>
<line x1="126.00" y1="1016.10" x2="126.00" y2="1019.60" stroke="#444" stroke-width="1"/>
<line x1="149.90" y1="1016.10" x2="149.90" y2="1019.60" stroke="#444" stroke-width="1"/>
<line x1="197.80" y1="1016.10" x2="197.80" y2="1019.60" stroke="#444" stroke-width="1"/>
<line x1="221.70" y1="1016.10" x2="221.70" y2="1019.60" stroke="#444" stroke-width="1"/>
<line x1="245.10" y1="1016.10" x2="245.10" y2="1019.60" stroke="#444" stroke-width="1"/>
<line x1="269.55" y1="1016.10" x2="269.55" y2="1019.60" stroke="#444" stroke-width="1"/>
<line x1="66.48" y1="1016.10" x2="66.48" y2="1018.10" stroke="#444" stroke-width="1"/>
<line x1="90.25" y1="1016.10" x2="90.25" y2="1018.10" stroke="#444" stroke-width="1"/>
<line x1="114.05" y1="1016.10" x2="114.05" y2="1018.10" stroke="#444" stroke-width="1"/>
<line x1="137.95" y1="1016.10" x2="137.95" y2="1018.10" stroke="#444" stroke-width="1"/>
<line x1="161.82" y1="1016.10" x2="161.82" y2="1018.10" stroke="#444" stroke-width="1"/>
<line x1="185.84" y1="1016.10" x2="185.84" y2="1018.10" stroke="#444" stroke-width="1"/>
<line x1="209.75" y1="1016.10" x2="209.75" y2="1018.10" stroke="#444" stroke-width="1"/>
<line x1="233.40" y1="1016.10" x2="233.40" y2="1018.10" stroke="#444" stroke-width="1"/>
<line x1="257.33" y1="1016.10" x2="257.33" y2="1018.10" stroke="#444" stroke-width="1"/>
<line x1="281.51" y1="1016.10" x2="281.51" y2="1018.10" stroke="#444" stroke-width="1"/>
<line x1="54.20" y1="1016.10" x2="54.20" y2="1018.10" stroke="#444" stroke-width="1"/>
<line x1="173.80" y1="1016.10" x2="173.80" y2="1018.10" stroke="#444" stroke-width="1"/>
<line x1="293.20" y1="1016.10" x2="293.20" y2="1018.10" stroke="#444" stroke-width="1"/>
<text x="83.45" y="1027.50" font-size="9.5" font-weight="bold" text-anchor="end" fill="#1a1a1a" transform="rotate(-30 83.45 1027.50)">CK</text>
<text x="107.15" y="1027.50" font-size="9.5" font-weight="bold" text-anchor="end" fill="#1a1a1a" transform="rotate(-30 107.15 1027.50)">Drought</text>
<text x="131.05" y="1027.50" font-size="9.5" font-weight="bold" text-anchor="end" fill="#1a1a1a" transform="rotate(-30 131.05 1027.50)">Metal</text>
<text x="154.95" y="1027.50" font-size="9.5" font-weight="bold" text-anchor="end" fill="#1a1a1a" transform="rotate(-30 154.95 1027.50)">Drought*Metal</text>
<text x="202.85" y="1027.50" font-size="9.5" font-weight="bold" text-anchor="end" fill="#1a1a1a" transform="rotate(-30 202.85 1027.50)">CK</text>
<text x="226.75" y="1027.50" font-size="9.5" font-weight="bold" text-anchor="end" fill="#1a1a1a" transform="rotate(-30 226.75 1027.50)">Drought</text>
<text x="250.15" y="1027.50" font-size="9.5" font-weight="bold" text-anchor="end" fill="#1a1a1a" transform="rotate(-30 250.15 1027.50)">Metal</text>
<text x="274.60" y="1027.50" font-size="9.5" font-weight="bold" text-anchor="end" fill="#1a1a1a" transform="rotate(-30 274.60 1027.50)">Drought*Metal</text>
<text x="26.20" y="922.30" font-size="12" font-weight="bold" text-anchor="middle" fill="#111" transform="rotate(-90 26.20 922.30)">pqqC community dissimilarity</text>
<text x="1.40" y="816.80" font-size="19" text-anchor="start" fill="#111">(d)</text>
<line x1="362.80" y1="175.12" x2="675.80" y2="175.12" stroke="#858585" stroke-width="1.2"/>
<rect x="362.8" y="25.5" width="312.99999999999994" height="197.5" fill="none" stroke="#444" stroke-width="1.1"/>
<line x1="518.50" y1="25.50" x2="518.50" y2="223.00" stroke="#4a4a4a" stroke-width="1.2"/>
<line x1="358.80" y1="223.00" x2="362.80" y2="223.00" stroke="#444" stroke-width="1"/>
<text x="355.50" y="226.80" font-size="10.5" font-weight="bold" text-anchor="end" fill="#1a1a1a">-8</text>
<line x1="358.80" y1="199.06" x2="362.80" y2="199.06" stroke="#444" stroke-width="1"/>
<text x="355.50" y="202.86" font-size="10.5" font-weight="bold" text-anchor="end" fill="#1a1a1a">-4</text>
<line x1="358.80" y1="175.12" x2="362.80" y2="175.12" stroke="#444" stroke-width="1"/>
<text x="355.50" y="178.92" font-size="10.5" font-weight="bold" text-anchor="end" fill="#1a1a1a">0</text>
<line x1="358.80" y1="151.18" x2="362.80" y2="151.18" stroke="#444" stroke-width="1"/>
<text x="355.50" y="154.98" font-size="10.5" font-weight="bold" text-anchor="end" fill="#1a1a1a">4</text>
<line x1="358.80" y1="127.24" x2="362.80" y2="127.24" stroke="#444" stroke-width="1"/>
<text x="355.50" y="131.04" font-size="10.5" font-weight="bold" text-anchor="end" fill="#1a1a1a">8</text>
<line x1="358.80" y1="103.30" x2="362.80" y2="103.30" stroke="#444" stroke-width="1"/>
<text x="355.50" y="107.10" font-size="10.5" font-weight="bold" text-anchor="end" fill="#1a1a1a">12</text>
<line x1="358.80" y1="79.36" x2="362.80" y2="79.36" stroke="#444" stroke-width="1"/>
<text x="355.50" y="83.16" font-size="10.5" font-weight="bold" text-anchor="end" fill="#1a1a1a">16</text>
<line x1="358.80" y1="55.42" x2="362.80" y2="55.42" stroke="#444" stroke-width="1"/>
<text x="355.50" y="59.22" font-size="10.5" font-weight="bold" text-anchor="end" fill="#1a1a1a">20</text>
<line x1="358.80" y1="31.48" x2="362.80" y2="31.48" stroke="#444" stroke-width="1"/>
<text x="355.50" y="35.28" font-size="10.5" font-weight="bold" text-anchor="end" fill="#1a1a1a">24</text>
<line x1="360.60" y1="211.03" x2="362.80" y2="211.03" stroke="#444" stroke-width="1"/>
<line x1="360.60" y1="187.09" x2="362.80" y2="187.09" stroke="#444" stroke-width="1"/>
<line x1="360.60" y1="163.15" x2="362.80" y2="163.15" stroke="#444" stroke-width="1"/>
<line x1="360.60" y1="139.21" x2="362.80" y2="139.21" stroke="#444" stroke-width="1"/>
<line x1="360.60" y1="115.27" x2="362.80" y2="115.27" stroke="#444" stroke-width="1"/>
<line x1="360.60" y1="91.33" x2="362.80" y2="91.33" stroke="#444" stroke-width="1"/>
<line x1="360.60" y1="67.39" x2="362.80" y2="67.39" stroke="#444" stroke-width="1"/>
<line x1="360.60" y1="43.45" x2="362.80" y2="43.45" stroke="#444" stroke-width="1"/>
<line x1="384.70" y1="223.00" x2="384.70" y2="227.00" stroke="#444" stroke-width="1"/>
<line x1="429.80" y1="223.00" x2="429.80" y2="227.00" stroke="#444" stroke-width="1"/>
<line x1="474.50" y1="223.00" x2="474.50" y2="227.00" stroke="#444" stroke-width="1"/>
<line x1="564.00" y1="223.00" x2="564.00" y2="227.00" stroke="#444" stroke-width="1"/>
<line x1="608.60" y1="223.00" x2="608.60" y2="227.00" stroke="#444" stroke-width="1"/>
<line x1="653.20" y1="223.00" x2="653.20" y2="227.00" stroke="#444" stroke-width="1"/>
<line x1="362.25" y1="223.00" x2="362.25" y2="225.20" stroke="#444" stroke-width="1"/>
<line x1="407.25" y1="223.00" x2="407.25" y2="225.20" stroke="#444" stroke-width="1"/>
<line x1="452.15" y1="223.00" x2="452.15" y2="225.20" stroke="#444" stroke-width="1"/>
<line x1="496.95" y1="223.00" x2="496.95" y2="225.20" stroke="#444" stroke-width="1"/>
<line x1="541.70" y1="223.00" x2="541.70" y2="225.20" stroke="#444" stroke-width="1"/>
<line x1="586.30" y1="223.00" x2="586.30" y2="225.20" stroke="#444" stroke-width="1"/>
<line x1="630.90" y1="223.00" x2="630.90" y2="225.20" stroke="#444" stroke-width="1"/>
<line x1="675.50" y1="223.00" x2="675.50" y2="225.20" stroke="#444" stroke-width="1"/>
<line x1="362.80" y1="223.00" x2="362.80" y2="225.20" stroke="#444" stroke-width="1"/>
<line x1="518.50" y1="223.00" x2="518.50" y2="225.20" stroke="#444" stroke-width="1"/>
<line x1="675.80" y1="223.00" x2="675.80" y2="225.20" stroke="#444" stroke-width="1"/>
<circle cx="384.70" cy="147.29" r="7.5" fill="#fff" stroke="#111" stroke-width="1.3"/>
<circle cx="429.80" cy="206.42" r="7.5" fill="#fff" stroke="#111" stroke-width="1.3"/>
<circle cx="474.50" cy="57.46" r="7.5" fill="#66c5b1" stroke="#111" stroke-width="1.3"/>
<line x1="474.50" y1="64.96" x2="474.50" y2="78.53" stroke="#111" stroke-width="1.3"/>
<line x1="474.50" y1="49.96" x2="474.50" y2="36.15" stroke="#111" stroke-width="1.3"/>
<line x1="472.30" y1="78.53" x2="476.70" y2="78.53" stroke="#111" stroke-width="1.3"/>
<line x1="472.30" y1="36.15" x2="476.70" y2="36.15" stroke="#111" stroke-width="1.3"/>
<circle cx="564.00" cy="167.64" r="7.5" fill="#fff" stroke="#111" stroke-width="1.3"/>
<line x1="564.00" y1="175.14" x2="564.00" y2="174.04" stroke="#111" stroke-width="1.3"/>
<line x1="564.00" y1="160.14" x2="564.00" y2="161.72" stroke="#111" stroke-width="1.3"/>
<line x1="561.80" y1="174.04" x2="566.20" y2="174.04" stroke="#111" stroke-width="1.3"/>
<line x1="561.80" y1="161.72" x2="566.20" y2="161.72" stroke="#111" stroke-width="1.3"/>
<circle cx="608.50" cy="187.03" r="7.5" fill="#fff" stroke="#111" stroke-width="1.3"/>
<line x1="608.50" y1="194.53" x2="608.50" y2="193.61" stroke="#111" stroke-width="1.3"/>
<line x1="608.50" y1="179.53" x2="608.50" y2="180.81" stroke="#111" stroke-width="1.3"/>
<line x1="606.30" y1="193.61" x2="610.70" y2="193.61" stroke="#111" stroke-width="1.3"/>
<line x1="606.30" y1="180.81" x2="610.70" y2="180.81" stroke="#111" stroke-width="1.3"/>
<circle cx="653.20" cy="128.74" r="7.5" fill="#66c5b1" stroke="#111" stroke-width="1.3"/>
<text x="431.70" y="43.20" font-size="15" font-weight="bold" text-anchor="middle" fill="#111">Red soil</text>
<text x="592.90" y="43.80" font-size="14.6" font-weight="bold" text-anchor="middle" fill="#111">Brown soil</text>
<text x="522.90" y="14.60" font-size="14.8" font-weight="bold" text-anchor="middle" fill="#111">phoD abundance</text>
<text x="387.10" y="242.60" font-size="10.6" font-weight="bold" text-anchor="middle" fill="#1a1a1a" transform="rotate(-14 387.10 242.60)">Drought</text>
<text x="431.80" y="242.60" font-size="10.6" font-weight="bold" text-anchor="middle" fill="#1a1a1a" transform="rotate(-14 431.80 242.60)">Acidification</text>
<text x="477.00" y="242.90" font-size="10.6" font-weight="bold" text-anchor="middle" fill="#1a1a1a" transform="rotate(-14 477.00 242.90)">Interaction</text>
<text x="566.30" y="243.00" font-size="10.6" font-weight="bold" text-anchor="middle" fill="#1a1a1a" transform="rotate(-14 566.30 243.00)">Drought</text>
<text x="610.90" y="242.70" font-size="10.6" font-weight="bold" text-anchor="middle" fill="#1a1a1a" transform="rotate(-14 610.90 242.70)">Acidification</text>
<text x="655.70" y="242.80" font-size="10.6" font-weight="bold" text-anchor="middle" fill="#1a1a1a" transform="rotate(-14 655.70 242.80)">Interaction</text>
<text x="342.10" y="126.90" font-size="12.8" font-weight="bold" text-anchor="middle" fill="#111" transform="rotate(-90 342.10 126.90)">Effect size (Hedge's d)</text>
<line x1="359.60" y1="446.50" x2="676.30" y2="446.50" stroke="#505050" stroke-width="1.2"/>
<rect x="359.6" y="290.5" width="316.69999999999993" height="202.8" fill="none" stroke="#444" stroke-width="1.1"/>
<line x1="517.30" y1="290.50" x2="517.30" y2="493.30" stroke="#303030" stroke-width="1.2"/>
<line x1="355.60" y1="477.70" x2="359.60" y2="477.70" stroke="#444" stroke-width="1"/>
<text x="352.50" y="481.50" font-size="10.5" font-weight="bold" text-anchor="end" fill="#1a1a1a">-2</text>
<line x1="355.60" y1="446.50" x2="359.60" y2="446.50" stroke="#444" stroke-width="1"/>
<text x="352.50" y="450.30" font-size="10.5" font-weight="bold" text-anchor="end" fill="#1a1a1a">0</text>
<line x1="355.60" y1="415.30" x2="359.60" y2="415.30" stroke="#444" stroke-width="1"/>
<text x="352.50" y="419.10" font-size="10.5" font-weight="bold" text-anchor="end" fill="#1a1a1a">2</text>
<line x1="355.60" y1="384.10" x2="359.60" y2="384.10" stroke="#444" stroke-width="1"/>
<text x="352.50" y="387.90" font-size="10.5" font-weight="bold" text-anchor="end" fill="#1a1a1a">4</text>
<line x1="355.60" y1="352.90" x2="359.60" y2="352.90" stroke="#444" stroke-width="1"/>
<text x="352.50" y="356.70" font-size="10.5" font-weight="bold" text-anchor="end" fill="#1a1a1a">6</text>
<line x1="355.60" y1="321.70" x2="359.60" y2="321.70" stroke="#444" stroke-width="1"/>
<text x="352.50" y="325.50" font-size="10.5" font-weight="bold" text-anchor="end" fill="#1a1a1a">8</text>
<line x1="355.60" y1="290.50" x2="359.60" y2="290.50" stroke="#444" stroke-width="1"/>
<text x="352.50" y="294.30" font-size="10.5" font-weight="bold" text-anchor="end" fill="#1a1a1a">10</text>
<line x1="357.40" y1="493.30" x2="359.60" y2="493.30" stroke="#444" stroke-width="1"/>
<line x1="357.40" y1="462.10" x2="359.60" y2="462.10" stroke="#444" stroke-width="1"/>
<line x1="357.40" y1="430.90" x2="359.60" y2="430.90" stroke="#444" stroke-width="1"/>
<line x1="357.40" y1="399.70" x2="359.60" y2="399.70" stroke="#444" stroke-width="1"/>
<line x1="357.40" y1="368.50" x2="359.60" y2="368.50" stroke="#444" stroke-width="1"/>
<line x1="357.40" y1="337.30" x2="359.60" y2="337.30" stroke="#444" stroke-width="1"/>
<line x1="357.40" y1="306.10" x2="359.60" y2="306.10" stroke="#444" stroke-width="1"/>
<line x1="382.30" y1="493.30" x2="382.30" y2="497.30" stroke="#444" stroke-width="1"/>
<line x1="427.60" y1="493.30" x2="427.60" y2="497.30" stroke="#444" stroke-width="1"/>
<line x1="472.40" y1="493.30" x2="472.40" y2="497.30" stroke="#444" stroke-width="1"/>
<line x1="563.20" y1="493.30" x2="563.20" y2="497.30" stroke="#444" stroke-width="1"/>
<line x1="608.30" y1="493.30" x2="608.30" y2="497.30" stroke="#444" stroke-width="1"/>
<line x1="653.60" y1="493.30" x2="653.60" y2="497.30" stroke="#444" stroke-width="1"/>
<line x1="359.78" y1="493.30" x2="359.78" y2="495.50" stroke="#444" stroke-width="1"/>
<line x1="404.95" y1="493.30" x2="404.95" y2="495.50" stroke="#444" stroke-width="1"/>
<line x1="450.00" y1="493.30" x2="450.00" y2="495.50" stroke="#444" stroke-width="1"/>
<line x1="494.92" y1="493.30" x2="494.92" y2="495.50" stroke="#444" stroke-width="1"/>
<line x1="540.60" y1="493.30" x2="540.60" y2="495.50" stroke="#444" stroke-width="1"/>
<line x1="585.75" y1="493.30" x2="585.75" y2="495.50" stroke="#444" stroke-width="1"/>
<line x1="630.95" y1="493.30" x2="630.95" y2="495.50" stroke="#444" stroke-width="1"/>
<line x1="676.20" y1="493.30" x2="676.20" y2="495.50" stroke="#444" stroke-width="1"/>
<line x1="359.60" y1="493.30" x2="359.60" y2="495.50" stroke="#444" stroke-width="1"/>
<line x1="517.30" y1="493.30" x2="517.30" y2="495.50" stroke="#444" stroke-width="1"/>
<line x1="676.30" y1="493.30" x2="676.30" y2="495.50" stroke="#444" stroke-width="1"/>
<circle cx="382.00" cy="406.56" r="7.7" fill="#fff" stroke="#111" stroke-width="1.3"/>
<line x1="382.00" y1="414.26" x2="382.00" y2="423.72" stroke="#111" stroke-width="1.3"/>
<line x1="382.00" y1="398.86" x2="382.00" y2="389.56" stroke="#111" stroke-width="1.3"/>
<line x1="379.80" y1="423.72" x2="384.20" y2="423.72" stroke="#111" stroke-width="1.3"/>
<line x1="379.80" y1="389.56" x2="384.20" y2="389.56" stroke="#111" stroke-width="1.3"/>
<circle cx="427.50" cy="463.82" r="7.7" fill="#fff" stroke="#111" stroke-width="1.3"/>
<line x1="427.50" y1="471.52" x2="427.50" y2="479.42" stroke="#111" stroke-width="1.3"/>
<line x1="427.50" y1="456.12" x2="427.50" y2="447.90" stroke="#111" stroke-width="1.3"/>
<line x1="425.30" y1="479.42" x2="429.70" y2="479.42" stroke="#111" stroke-width="1.3"/>
<line x1="425.30" y1="447.90" x2="429.70" y2="447.90" stroke="#111" stroke-width="1.3"/>
<circle cx="472.40" cy="332.78" r="7.7" fill="#e9674f" stroke="#111" stroke-width="1.3"/>
<line x1="472.40" y1="340.48" x2="472.40" y2="357.58" stroke="#111" stroke-width="1.3"/>
<line x1="472.40" y1="325.08" x2="472.40" y2="307.82" stroke="#111" stroke-width="1.3"/>
<line x1="470.20" y1="357.58" x2="474.60" y2="357.58" stroke="#111" stroke-width="1.3"/>
<line x1="470.20" y1="307.82" x2="474.60" y2="307.82" stroke="#111" stroke-width="1.3"/>
<circle cx="563.20" cy="415.77" r="7.7" fill="#fff" stroke="#111" stroke-width="1.3"/>
<line x1="563.20" y1="423.47" x2="563.20" y2="432.46" stroke="#111" stroke-width="1.3"/>
<line x1="563.20" y1="408.07" x2="563.20" y2="399.86" stroke="#111" stroke-width="1.3"/>
<line x1="561.00" y1="432.46" x2="565.40" y2="432.46" stroke="#111" stroke-width="1.3"/>
<line x1="561.00" y1="399.86" x2="565.40" y2="399.86" stroke="#111" stroke-width="1.3"/>
<circle cx="608.30" cy="459.76" r="7.7" fill="#fff" stroke="#111" stroke-width="1.3"/>
<line x1="608.30" y1="467.46" x2="608.30" y2="471.46" stroke="#111" stroke-width="1.3"/>
<line x1="608.30" y1="452.06" x2="608.30" y2="447.90" stroke="#111" stroke-width="1.3"/>
<line x1="606.10" y1="471.46" x2="610.50" y2="471.46" stroke="#111" stroke-width="1.3"/>
<line x1="606.10" y1="447.90" x2="610.50" y2="447.90" stroke="#111" stroke-width="1.3"/>
<circle cx="653.60" cy="353.68" r="7.7" fill="#e9674f" stroke="#111" stroke-width="1.3"/>
<line x1="653.60" y1="361.38" x2="653.60" y2="371.31" stroke="#111" stroke-width="1.3"/>
<line x1="653.60" y1="345.98" x2="653.60" y2="335.12" stroke="#111" stroke-width="1.3"/>
<line x1="651.40" y1="371.31" x2="655.80" y2="371.31" stroke="#111" stroke-width="1.3"/>
<line x1="651.40" y1="335.12" x2="655.80" y2="335.12" stroke="#111" stroke-width="1.3"/>
<text x="434.40" y="308.20" font-size="15" font-weight="bold" text-anchor="middle" fill="#111">Red soil</text>
<text x="595.10" y="307.40" font-size="15" font-weight="bold" text-anchor="middle" fill="#111">Brown soil</text>
<text x="516.90" y="281.20" font-size="15" font-weight="bold" text-anchor="middle" fill="#111">pqqC abundance</text>
<text x="385.20" y="512.80" font-size="10.9" font-weight="bold" text-anchor="middle" fill="#1a1a1a" transform="rotate(-14 385.20 512.80)">Drought</text>
<text x="430.20" y="512.20" font-size="10.9" font-weight="bold" text-anchor="middle" fill="#1a1a1a" transform="rotate(-14 430.20 512.20)">Acidification</text>
<text x="475.70" y="512.00" font-size="10.9" font-weight="bold" text-anchor="middle" fill="#1a1a1a" transform="rotate(-14 475.70 512.00)">Interaction</text>
<text x="565.80" y="512.80" font-size="10.9" font-weight="bold" text-anchor="middle" fill="#1a1a1a" transform="rotate(-14 565.80 512.80)">Drought</text>
<text x="610.80" y="512.20" font-size="10.9" font-weight="bold" text-anchor="middle" fill="#1a1a1a" transform="rotate(-14 610.80 512.20)">Acidification</text>
<text x="656.50" y="512.00" font-size="10.9" font-weight="bold" text-anchor="middle" fill="#1a1a1a" transform="rotate(-14 656.50 512.00)">Interaction</text>
<text x="338.50" y="396.20" font-size="12.7" font-weight="bold" text-anchor="middle" fill="#111" transform="rotate(-90 338.50 396.20)">Effect size (Hedge's d)</text>
<line x1="360.00" y1="688.03" x2="674.50" y2="688.03" stroke="#5a5a5a" stroke-width="1.2"/>
<rect x="360.0" y="556.6" width="314.5" height="208.10000000000002" fill="none" stroke="#444" stroke-width="1.1"/>
<line x1="516.70" y1="556.60" x2="516.70" y2="764.70" stroke="#484848" stroke-width="1.2"/>
<line x1="356.00" y1="753.75" x2="360.00" y2="753.75" stroke="#444" stroke-width="1"/>
<text x="352.00" y="757.55" font-size="10.5" font-weight="bold" text-anchor="end" fill="#1a1a1a">-15</text>
<line x1="356.00" y1="731.84" x2="360.00" y2="731.84" stroke="#444" stroke-width="1"/>
<text x="352.00" y="735.64" font-size="10.5" font-weight="bold" text-anchor="end" fill="#1a1a1a">-10</text>
<line x1="356.00" y1="709.94" x2="360.00" y2="709.94" stroke="#444" stroke-width="1"/>
<text x="352.00" y="713.74" font-size="10.5" font-weight="bold" text-anchor="end" fill="#1a1a1a">-5</text>
<line x1="356.00" y1="688.03" x2="360.00" y2="688.03" stroke="#444" stroke-width="1"/>
<text x="352.00" y="691.83" font-size="10.5" font-weight="bold" text-anchor="end" fill="#1a1a1a">0</text>
<line x1="356.00" y1="666.13" x2="360.00" y2="666.13" stroke="#444" stroke-width="1"/>
<text x="352.00" y="669.93" font-size="10.5" font-weight="bold" text-anchor="end" fill="#1a1a1a">5</text>
<line x1="356.00" y1="644.22" x2="360.00" y2="644.22" stroke="#444" stroke-width="1"/>
<text x="352.00" y="648.02" font-size="10.5" font-weight="bold" text-anchor="end" fill="#1a1a1a">10</text>
<line x1="356.00" y1="622.32" x2="360.00" y2="622.32" stroke="#444" stroke-width="1"/>
<text x="352.00" y="626.12" font-size="10.5" font-weight="bold" text-anchor="end" fill="#1a1a1a">15</text>
<line x1="356.00" y1="600.41" x2="360.00" y2="600.41" stroke="#444" stroke-width="1"/>
<text x="352.00" y="604.21" font-size="10.5" font-weight="bold" text-anchor="end" fill="#1a1a1a">20</text>
<line x1="356.00" y1="578.51" x2="360.00" y2="578.51" stroke="#444" stroke-width="1"/>
<text x="352.00" y="582.31" font-size="10.5" font-weight="bold" text-anchor="end" fill="#1a1a1a">25</text>
<line x1="356.00" y1="556.60" x2="360.00" y2="556.60" stroke="#444" stroke-width="1"/>
<text x="352.00" y="560.40" font-size="10.5" font-weight="bold" text-anchor="end" fill="#1a1a1a">30</text>
<line x1="357.80" y1="764.70" x2="360.00" y2="764.70" stroke="#444" stroke-width="1"/>
<line x1="357.80" y1="742.79" x2="360.00" y2="742.79" stroke="#444" stroke-width="1"/>
<line x1="357.80" y1="720.89" x2="360.00" y2="720.89" stroke="#444" stroke-width="1"/>
<line x1="357.80" y1="698.98" x2="360.00" y2="698.98" stroke="#444" stroke-width="1"/>
<line x1="357.80" y1="677.08" x2="360.00" y2="677.08" stroke="#444" stroke-width="1"/>
<line x1="357.80" y1="655.17" x2="360.00" y2="655.17" stroke="#444" stroke-width="1"/>
<line x1="357.80" y1="633.27" x2="360.00" y2="633.27" stroke="#444" stroke-width="1"/>
<line x1="357.80" y1="611.36" x2="360.00" y2="611.36" stroke="#444" stroke-width="1"/>
<line x1="357.80" y1="589.46" x2="360.00" y2="589.46" stroke="#444" stroke-width="1"/>
<line x1="357.80" y1="567.55" x2="360.00" y2="567.55" stroke="#444" stroke-width="1"/>
<line x1="383.10" y1="764.70" x2="383.10" y2="768.70" stroke="#444" stroke-width="1"/>
<line x1="427.80" y1="764.70" x2="427.80" y2="768.70" stroke="#444" stroke-width="1"/>
<line x1="472.70" y1="764.70" x2="472.70" y2="768.70" stroke="#444" stroke-width="1"/>
<line x1="562.20" y1="764.70" x2="562.20" y2="768.70" stroke="#444" stroke-width="1"/>
<line x1="606.90" y1="764.70" x2="606.90" y2="768.70" stroke="#444" stroke-width="1"/>
<line x1="651.70" y1="764.70" x2="651.70" y2="768.70" stroke="#444" stroke-width="1"/>
<line x1="360.70" y1="764.70" x2="360.70" y2="766.90" stroke="#444" stroke-width="1"/>
<line x1="405.45" y1="764.70" x2="405.45" y2="766.90" stroke="#444" stroke-width="1"/>
<line x1="450.25" y1="764.70" x2="450.25" y2="766.90" stroke="#444" stroke-width="1"/>
<line x1="495.10" y1="764.70" x2="495.10" y2="766.90" stroke="#444" stroke-width="1"/>
<line x1="539.83" y1="764.70" x2="539.83" y2="766.90" stroke="#444" stroke-width="1"/>
<line x1="584.55" y1="764.70" x2="584.55" y2="766.90" stroke="#444" stroke-width="1"/>
<line x1="629.30" y1="764.70" x2="629.30" y2="766.90" stroke="#444" stroke-width="1"/>
<line x1="674.08" y1="764.70" x2="674.08" y2="766.90" stroke="#444" stroke-width="1"/>
<line x1="360.00" y1="764.70" x2="360.00" y2="766.90" stroke="#444" stroke-width="1"/>
<line x1="516.70" y1="764.70" x2="516.70" y2="766.90" stroke="#444" stroke-width="1"/>
<line x1="674.50" y1="764.70" x2="674.50" y2="766.90" stroke="#444" stroke-width="1"/>
<circle cx="383.30" cy="735.35" r="8.0" fill="#fff" stroke="#111" stroke-width="1.3"/>
<line x1="383.30" y1="743.35" x2="383.30" y2="742.45" stroke="#111" stroke-width="1.3"/>
<line x1="383.30" y1="727.35" x2="383.30" y2="728.25" stroke="#111" stroke-width="1.3"/>
<line x1="381.10" y1="742.45" x2="385.50" y2="742.45" stroke="#111" stroke-width="1.3"/>
<line x1="381.10" y1="728.25" x2="385.50" y2="728.25" stroke="#111" stroke-width="1.3"/>
<circle cx="427.80" cy="650.53" r="8.0" fill="#fff" stroke="#111" stroke-width="1.3"/>
<line x1="427.80" y1="658.53" x2="427.80" y2="657.63" stroke="#111" stroke-width="1.3"/>
<line x1="427.80" y1="642.53" x2="427.80" y2="643.43" stroke="#111" stroke-width="1.3"/>
<line x1="425.60" y1="657.63" x2="430.00" y2="657.63" stroke="#111" stroke-width="1.3"/>
<line x1="425.60" y1="643.43" x2="430.00" y2="643.43" stroke="#111" stroke-width="1.3"/>
<circle cx="472.70" cy="585.95" r="8.0" fill="#66c5b1" stroke="#111" stroke-width="1.3"/>
<line x1="472.70" y1="593.95" x2="472.70" y2="604.53" stroke="#111" stroke-width="1.3"/>
<line x1="472.70" y1="577.95" x2="472.70" y2="567.55" stroke="#111" stroke-width="1.3"/>
<line x1="470.50" y1="604.53" x2="474.90" y2="604.53" stroke="#111" stroke-width="1.3"/>
<line x1="470.50" y1="567.55" x2="474.90" y2="567.55" stroke="#111" stroke-width="1.3"/>
<circle cx="562.20" cy="691.71" r="8.0" fill="#fff" stroke="#111" stroke-width="1.3"/>
<line x1="562.20" y1="699.71" x2="562.20" y2="696.22" stroke="#111" stroke-width="1.3"/>
<line x1="562.20" y1="683.71" x2="562.20" y2="685.36" stroke="#111" stroke-width="1.3"/>
<line x1="560.00" y1="696.22" x2="564.40" y2="696.22" stroke="#111" stroke-width="1.3"/>
<line x1="560.00" y1="685.36" x2="564.40" y2="685.36" stroke="#111" stroke-width="1.3"/>
<circle cx="607.10" cy="691.01" r="8.0" fill="#fff" stroke="#111" stroke-width="1.3"/>
<line x1="607.10" y1="699.01" x2="607.10" y2="695.52" stroke="#111" stroke-width="1.3"/>
<line x1="607.10" y1="683.01" x2="607.10" y2="684.31" stroke="#111" stroke-width="1.3"/>
<line x1="604.90" y1="695.52" x2="609.30" y2="695.52" stroke="#111" stroke-width="1.3"/>
<line x1="604.90" y1="684.31" x2="609.30" y2="684.31" stroke="#111" stroke-width="1.3"/>
<circle cx="651.70" cy="678.61" r="8.0" fill="#66c5b1" stroke="#111" stroke-width="1.3"/>
<line x1="651.70" y1="686.61" x2="651.70" y2="682.73" stroke="#111" stroke-width="1.3"/>
<line x1="651.70" y1="670.61" x2="651.70" y2="673.14" stroke="#111" stroke-width="1.3"/>
<line x1="649.50" y1="682.73" x2="653.90" y2="682.73" stroke="#111" stroke-width="1.3"/>
<line x1="649.50" y1="673.14" x2="653.90" y2="673.14" stroke="#111" stroke-width="1.3"/>
<text x="434.10" y="573.30" font-size="16" font-weight="bold" text-anchor="middle" fill="#111">Red soil</text>
<text x="599.60" y="574.30" font-size="15.8" font-weight="bold" text-anchor="middle" fill="#111">Brown soil</text>
<text x="525.20" y="546.60" font-size="16" font-weight="bold" text-anchor="middle" fill="#111">phoD community dissimilarity</text>
<text x="384.90" y="784.50" font-size="11.3" font-weight="bold" text-anchor="middle" fill="#1a1a1a" transform="rotate(-14 384.90 784.50)">Drought</text>
<text x="430.70" y="785.20" font-size="11.3" font-weight="bold" text-anchor="middle" fill="#1a1a1a" transform="rotate(-14 430.70 785.20)">Metal</text>
<text x="474.70" y="783.50" font-size="11.3" font-weight="bold" text-anchor="middle" fill="#1a1a1a" transform="rotate(-14 474.70 783.50)">Interaction</text>
<text x="564.10" y="784.50" font-size="11.3" font-weight="bold" text-anchor="middle" fill="#1a1a1a" transform="rotate(-14 564.10 784.50)">Drought</text>
<text x="608.90" y="785.00" font-size="11.3" font-weight="bold" text-anchor="middle" fill="#1a1a1a" transform="rotate(-14 608.90 785.00)">Metal</text>
<text x="653.90" y="783.50" font-size="11.3" font-weight="bold" text-anchor="middle" fill="#1a1a1a" transform="rotate(-14 653.90 783.50)">Interaction</text>
<text x="333.50" y="667.70" font-size="13.8" font-weight="bold" text-anchor="middle" fill="#111" transform="rotate(-90 333.50 667.70)">Effect size (Hedge's d)</text>
<circle cx="589.8" cy="717" r="6.6" fill="#66c5b1"/>
<text x="602.10" y="721.10" font-size="11.5" text-anchor="start" fill="#2a2a2a">Antagonistic</text>
<circle cx="589.8" cy="733.2" r="6.6" fill="#e9674f"/>
<text x="602.10" y="737.30" font-size="11.5" text-anchor="start" fill="#2a2a2a">Synergistic</text>
<circle cx="589.8" cy="751" r="6.6" fill="#c4c4c4"/>
<text x="602.10" y="755.10" font-size="11.5" text-anchor="start" fill="#2a2a2a">Additive</text>
<line x1="358.30" y1="935.13" x2="671.40" y2="935.13" stroke="#2a2a2a" stroke-width="1.2"/>
<rect x="358.3" y="827.4" width="313.09999999999997" height="202.0000000000001" fill="none" stroke="#444" stroke-width="1.1"/>
<line x1="515.40" y1="827.40" x2="515.40" y2="1029.40" stroke="#222" stroke-width="1.2"/>
<line x1="354.30" y1="1015.93" x2="358.30" y2="1015.93" stroke="#444" stroke-width="1"/>
<text x="351.70" y="1019.73" font-size="10.5" font-weight="bold" text-anchor="end" fill="#1a1a1a">-3</text>
<line x1="354.30" y1="989.00" x2="358.30" y2="989.00" stroke="#444" stroke-width="1"/>
<text x="351.70" y="992.80" font-size="10.5" font-weight="bold" text-anchor="end" fill="#1a1a1a">-2</text>
<line x1="354.30" y1="962.07" x2="358.30" y2="962.07" stroke="#444" stroke-width="1"/>
<text x="351.70" y="965.87" font-size="10.5" font-weight="bold" text-anchor="end" fill="#1a1a1a">-1</text>
<line x1="354.30" y1="935.13" x2="358.30" y2="935.13" stroke="#444" stroke-width="1"/>
<text x="351.70" y="938.93" font-size="10.5" font-weight="bold" text-anchor="end" fill="#1a1a1a">0</text>
<line x1="354.30" y1="908.20" x2="358.30" y2="908.20" stroke="#444" stroke-width="1"/>
<text x="351.70" y="912.00" font-size="10.5" font-weight="bold" text-anchor="end" fill="#1a1a1a">1</text>
<line x1="354.30" y1="881.27" x2="358.30" y2="881.27" stroke="#444" stroke-width="1"/>
<text x="351.70" y="885.07" font-size="10.5" font-weight="bold" text-anchor="end" fill="#1a1a1a">2</text>
<line x1="354.30" y1="854.33" x2="358.30" y2="854.33" stroke="#444" stroke-width="1"/>
<text x="351.70" y="858.13" font-size="10.5" font-weight="bold" text-anchor="end" fill="#1a1a1a">3</text>
<line x1="354.30" y1="827.40" x2="358.30" y2="827.40" stroke="#444" stroke-width="1"/>
<text x="351.70" y="831.20" font-size="10.5" font-weight="bold" text-anchor="end" fill="#1a1a1a">4</text>
<line x1="356.10" y1="1029.40" x2="358.30" y2="1029.40" stroke="#444" stroke-width="1"/>
<line x1="356.10" y1="1002.47" x2="358.30" y2="1002.47" stroke="#444" stroke-width="1"/>
<line x1="356.10" y1="975.53" x2="358.30" y2="975.53" stroke="#444" stroke-width="1"/>
<line x1="356.10" y1="948.60" x2="358.30" y2="948.60" stroke="#444" stroke-width="1"/>
<line x1="356.10" y1="921.67" x2="358.30" y2="921.67" stroke="#444" stroke-width="1"/>
<line x1="356.10" y1="894.73" x2="358.30" y2="894.73" stroke="#444" stroke-width="1"/>
<line x1="356.10" y1="867.80" x2="358.30" y2="867.80" stroke="#444" stroke-width="1"/>
<line x1="356.10" y1="840.87" x2="358.30" y2="840.87" stroke="#444" stroke-width="1"/>
<line x1="380.50" y1="1029.40" x2="380.50" y2="1033.40" stroke="#444" stroke-width="1"/>
<line x1="425.20" y1="1029.40" x2="425.20" y2="1033.40" stroke="#444" stroke-width="1"/>
<line x1="469.90" y1="1029.40" x2="469.90" y2="1033.40" stroke="#444" stroke-width="1"/>
<line x1="559.50" y1="1029.40" x2="559.50" y2="1033.40" stroke="#444" stroke-width="1"/>
<line x1="604.20" y1="1029.40" x2="604.20" y2="1033.40" stroke="#444" stroke-width="1"/>
<line x1="649.00" y1="1029.40" x2="649.00" y2="1033.40" stroke="#444" stroke-width="1"/>
<line x1="358.15" y1="1029.40" x2="358.15" y2="1031.60" stroke="#444" stroke-width="1"/>
<line x1="402.85" y1="1029.40" x2="402.85" y2="1031.60" stroke="#444" stroke-width="1"/>
<line x1="447.55" y1="1029.40" x2="447.55" y2="1031.60" stroke="#444" stroke-width="1"/>
<line x1="492.25" y1="1029.40" x2="492.25" y2="1031.60" stroke="#444" stroke-width="1"/>
<line x1="537.12" y1="1029.40" x2="537.12" y2="1031.60" stroke="#444" stroke-width="1"/>
<line x1="581.85" y1="1029.40" x2="581.85" y2="1031.60" stroke="#444" stroke-width="1"/>
<line x1="626.60" y1="1029.40" x2="626.60" y2="1031.60" stroke="#444" stroke-width="1"/>
<line x1="671.38" y1="1029.40" x2="671.38" y2="1031.60" stroke="#444" stroke-width="1"/>
<line x1="358.30" y1="1029.40" x2="358.30" y2="1031.60" stroke="#444" stroke-width="1"/>
<line x1="515.40" y1="1029.40" x2="515.40" y2="1031.60" stroke="#444" stroke-width="1"/>
<line x1="671.40" y1="1029.40" x2="671.40" y2="1031.60" stroke="#444" stroke-width="1"/>
<circle cx="380.70" cy="989.00" r="7.8" fill="#fff" stroke="#111" stroke-width="1.3"/>
<line x1="380.70" y1="996.80" x2="380.70" y2="1017.55" stroke="#111" stroke-width="1.3"/>
<line x1="380.70" y1="981.20" x2="380.70" y2="961.26" stroke="#111" stroke-width="1.3"/>
<line x1="378.50" y1="1017.55" x2="382.90" y2="1017.55" stroke="#111" stroke-width="1.3"/>
<line x1="378.50" y1="961.26" x2="382.90" y2="961.26" stroke="#111" stroke-width="1.3"/>
<circle cx="425.20" cy="918.70" r="7.8" fill="#fff" stroke="#111" stroke-width="1.3"/>
<line x1="425.20" y1="926.50" x2="425.20" y2="945.37" stroke="#111" stroke-width="1.3"/>
<line x1="425.20" y1="910.90" x2="425.20" y2="892.31" stroke="#111" stroke-width="1.3"/>
<line x1="423.00" y1="945.37" x2="427.40" y2="945.37" stroke="#111" stroke-width="1.3"/>
<line x1="423.00" y1="892.31" x2="427.40" y2="892.31" stroke="#111" stroke-width="1.3"/>
<circle cx="469.90" cy="862.95" r="7.8" fill="#66c5b1" stroke="#111" stroke-width="1.3"/>
<line x1="469.90" y1="870.75" x2="469.90" y2="891.77" stroke="#111" stroke-width="1.3"/>
<line x1="469.90" y1="855.15" x2="469.90" y2="833.59" stroke="#111" stroke-width="1.3"/>
<line x1="467.70" y1="891.77" x2="472.10" y2="891.77" stroke="#111" stroke-width="1.3"/>
<line x1="467.70" y1="833.59" x2="472.10" y2="833.59" stroke="#111" stroke-width="1.3"/>
<circle cx="559.50" cy="953.99" r="7.8" fill="#fff" stroke="#111" stroke-width="1.3"/>
<line x1="559.50" y1="961.79" x2="559.50" y2="980.65" stroke="#111" stroke-width="1.3"/>
<line x1="559.50" y1="946.19" x2="559.50" y2="926.51" stroke="#111" stroke-width="1.3"/>
<line x1="557.30" y1="980.65" x2="561.70" y2="980.65" stroke="#111" stroke-width="1.3"/>
<line x1="557.30" y1="926.51" x2="561.70" y2="926.51" stroke="#111" stroke-width="1.3"/>
<circle cx="604.20" cy="930.02" r="7.8" fill="#fff" stroke="#111" stroke-width="1.3"/>
<line x1="604.20" y1="937.82" x2="604.20" y2="951.29" stroke="#111" stroke-width="1.3"/>
<line x1="604.20" y1="922.22" x2="604.20" y2="909.01" stroke="#111" stroke-width="1.3"/>
<line x1="602.00" y1="951.29" x2="606.40" y2="951.29" stroke="#111" stroke-width="1.3"/>
<line x1="602.00" y1="909.01" x2="606.40" y2="909.01" stroke="#111" stroke-width="1.3"/>
<circle cx="649.00" cy="886.65" r="7.8" fill="#66c5b1" stroke="#111" stroke-width="1.3"/>
<line x1="649.00" y1="894.45" x2="649.00" y2="909.28" stroke="#111" stroke-width="1.3"/>
<line x1="649.00" y1="878.85" x2="649.00" y2="863.76" stroke="#111" stroke-width="1.3"/>
<line x1="646.80" y1="909.28" x2="651.20" y2="909.28" stroke="#111" stroke-width="1.3"/>
<line x1="646.80" y1="863.76" x2="651.20" y2="863.76" stroke="#111" stroke-width="1.3"/>
<text x="434.00" y="844.30" font-size="15.5" font-weight="bold" text-anchor="middle" fill="#111">Red soil</text>
<text x="594.20" y="844.40" font-size="15.7" font-weight="bold" text-anchor="middle" fill="#111">Brown soil</text>
<text x="515.10" y="817.60" font-size="15.9" font-weight="bold" text-anchor="middle" fill="#111">pqqC community dissimilarity</text>
<text x="385.60" y="1050.80" font-size="11.0" font-weight="bold" text-anchor="middle" fill="#1a1a1a" transform="rotate(-14 385.60 1050.80)">Drought</text>
<text x="430.70" y="1051.30" font-size="11.0" font-weight="bold" text-anchor="middle" fill="#1a1a1a" transform="rotate(-14 430.70 1051.30)">Metal</text>
<text x="474.70" y="1050.30" font-size="11.0" font-weight="bold" text-anchor="middle" fill="#1a1a1a" transform="rotate(-14 474.70 1050.30)">Interaction</text>
<text x="564.10" y="1050.80" font-size="11.0" font-weight="bold" text-anchor="middle" fill="#1a1a1a" transform="rotate(-14 564.10 1050.80)">Drought</text>
<text x="610.10" y="1051.30" font-size="11.0" font-weight="bold" text-anchor="middle" fill="#1a1a1a" transform="rotate(-14 610.10 1051.30)">Metal</text>
<text x="653.90" y="1050.30" font-size="11.0" font-weight="bold" text-anchor="middle" fill="#1a1a1a" transform="rotate(-14 653.90 1050.30)">Interaction</text>
<text x="332.20" y="924.70" font-size="13.2" font-weight="bold" text-anchor="middle" fill="#111" transform="rotate(-90 332.20 924.70)">Effect size (Hedge's d)</text>
</svg></body></html>
